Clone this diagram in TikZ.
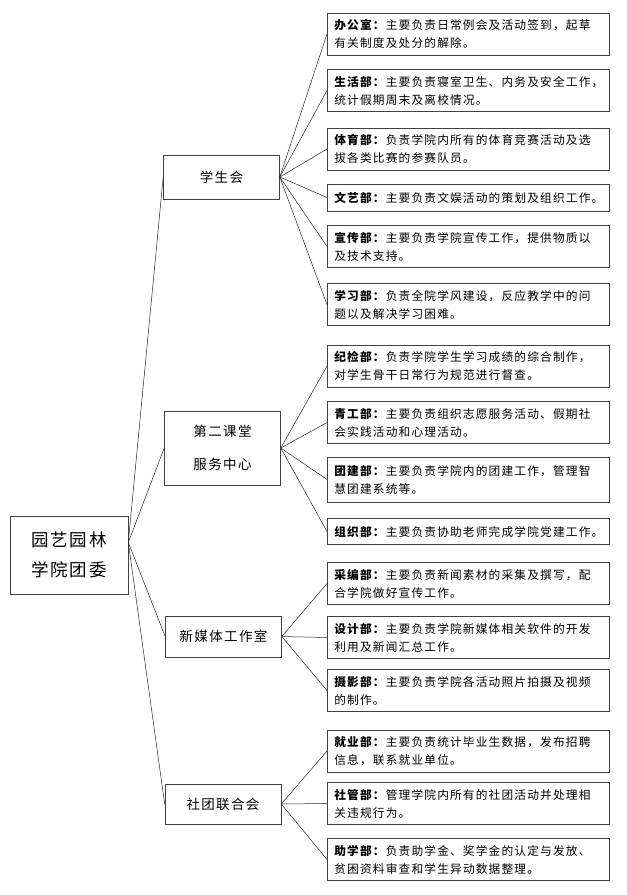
\documentclass[tikz,border=0pt]{standalone}
\usepackage{fontspec}
\setmainfont{Noto Sans CJK SC}[LetterSpace=10]
\usepackage{xcolor}
\usetikzlibrary{positioning}

\tikzset{
  root/.style={rectangle, draw=black!75, line width=0.6pt, align=center, minimum width=118pt, minimum height=78pt, font=\fontsize{17.5}{30}\selectfont},
  unit/.style={rectangle, draw=black!75, line width=0.6pt, align=center, minimum width=116pt, font=\fontsize{13.5}{33}\selectfont},
  dept/.style={rectangle, draw=black!75, line width=0.6pt, anchor=west, text width=268pt, inner xsep=7pt, inner ysep=3pt, align=left, minimum height=42pt, font=\fontsize{11.7}{18}\selectfont},
  link/.style={draw=black!85, line width=0.5pt}
}

\begin{document}
\begin{tikzpicture}[x=1pt, y=-1pt]
				\useasboundingbox (0,0) rectangle (627,895);
				% root and the four units
				\node[root] (tuanwei) at (69,555) {园艺园林\\学院团委};
				\node[unit, minimum height=44pt] (xsh) at (221.5,177) {学生会};
				\node[unit, minimum height=74pt] (dekt) at (222.5,448) {第二课堂\\服务中心};
				\node[unit, minimum height=41pt] (xmt) at (223.5,636.5) {新媒体工作室};
				\node[unit, minimum height=40pt] (stlh) at (223,804) {社团联合会};
				
				% departments of the student union
				\node[dept] (bgs) at (327,34) {\textbf{办公室：}主要负责日常例会及活动签到，起草\\有关制度及处分的解除。};
				\node[dept] (shb) at (327,90.5) {\textbf{生活部：}主要负责寝室卫生、内务及安全工作，\\统计假期周末及离校情况。};
				\node[dept] (tyb) at (327,149) {\textbf{体育部：}负责学院内所有的体育竞赛活动及选\\拔各类比赛的参赛队员。};
				\node[dept, minimum height=27pt] (wyb) at (327,197.5) {\textbf{文艺部：}主要负责文娱活动的策划及组织工作。};
				\node[dept] (xcb) at (327,246.5) {\textbf{宣传部：}主要负责学院宣传工作，提供物质以\\及技术支持。};
				\node[dept] (xxb) at (327,304.5) {\textbf{学习部：}负责全院学风建设，反应教学中的问\\题以及解决学习困难。};
				
				% departments of the service centre
				\node[dept] (jjb) at (327,366) {\textbf{纪检部：}负责学院学生学习成绩的综合制作，\\对学生骨干日常行为规范进行督查。};
				\node[dept] (qgb) at (327,422.5) {\textbf{青工部：}主要负责组织志愿服务活动、假期社\\会实践活动和心理活动。};
				\node[dept, minimum height=45pt] (tjb) at (327,479.5) {\textbf{团建部：}主要负责学院内的团建工作，管理智\\慧团建系统等。};
				\node[dept, minimum height=26pt] (zzb) at (327,531.5) {\textbf{组织部：}主要负责协助老师完成学院党建工作。};
				
				% new media studio
				\node[dept] (cbb) at (327,583.5) {\textbf{采编部：}主要负责新闻素材的采集及撰写，配\\合学院做好宣传工作。};
				\node[dept] (sjb) at (327,637.5) {\textbf{设计部：}主要负责学院新媒体相关软件的开发\\利用及新闻汇总工作。};
				\node[dept] (syb) at (327,690.5) {\textbf{摄影部：}主要负责学院各活动照片拍摄及视频\\的制作。};
				
				% club federation
				\node[dept] (jyb) at (327,751) {\textbf{就业部：}主要负责统计毕业生数据，发布招聘\\信息，联系就业单位。};
				\node[dept] (sgb) at (327,803.5) {\textbf{社管部：}管理学院内所有的社团活动并处理相\\关违规行为。};
				\node[dept] (zxb) at (327,859.5) {\textbf{助学部：}负责助学金、奖学金的认定与发放、\\贫困资料审查和学生异动数据整理。};
				
				\draw[link] (tuanwei.12) -- (xsh.west);
				\draw[link] (tuanwei.12) -- (dekt.west);
				\draw[link] (tuanwei.12) -- (xmt.west);
				\draw[link] (tuanwei.12) -- (stlh.west);
				
				\draw[link] (xsh.east) -- (bgs.west);
				\draw[link] (xsh.east) -- (shb.west);
				\draw[link] (xsh.east) -- (tyb.west);
				\draw[link] (xsh.east) -- (wyb.west);
				\draw[link] (xsh.east) -- (xcb.west);
				\draw[link] (xsh.east) -- (xxb.west);
				
				\draw[link] (dekt.east) -- (jjb.west);
				\draw[link] (dekt.east) -- (qgb.west);
				\draw[link] (dekt.east) -- (tjb.west);
				\draw[link] (dekt.east) -- (zzb.west);
				
				\draw[link] (xmt.east) -- (cbb.west);
				\draw[link] (xmt.east) -- (sjb.west);
				\draw[link] (xmt.east) -- (syb.west);
				
				\draw[link] (stlh.east) -- (jyb.west);
				\draw[link] (stlh.east) -- (sgb.west);
				\draw[link] (stlh.east) -- (zxb.west);
			\end{tikzpicture}
\end{document}
